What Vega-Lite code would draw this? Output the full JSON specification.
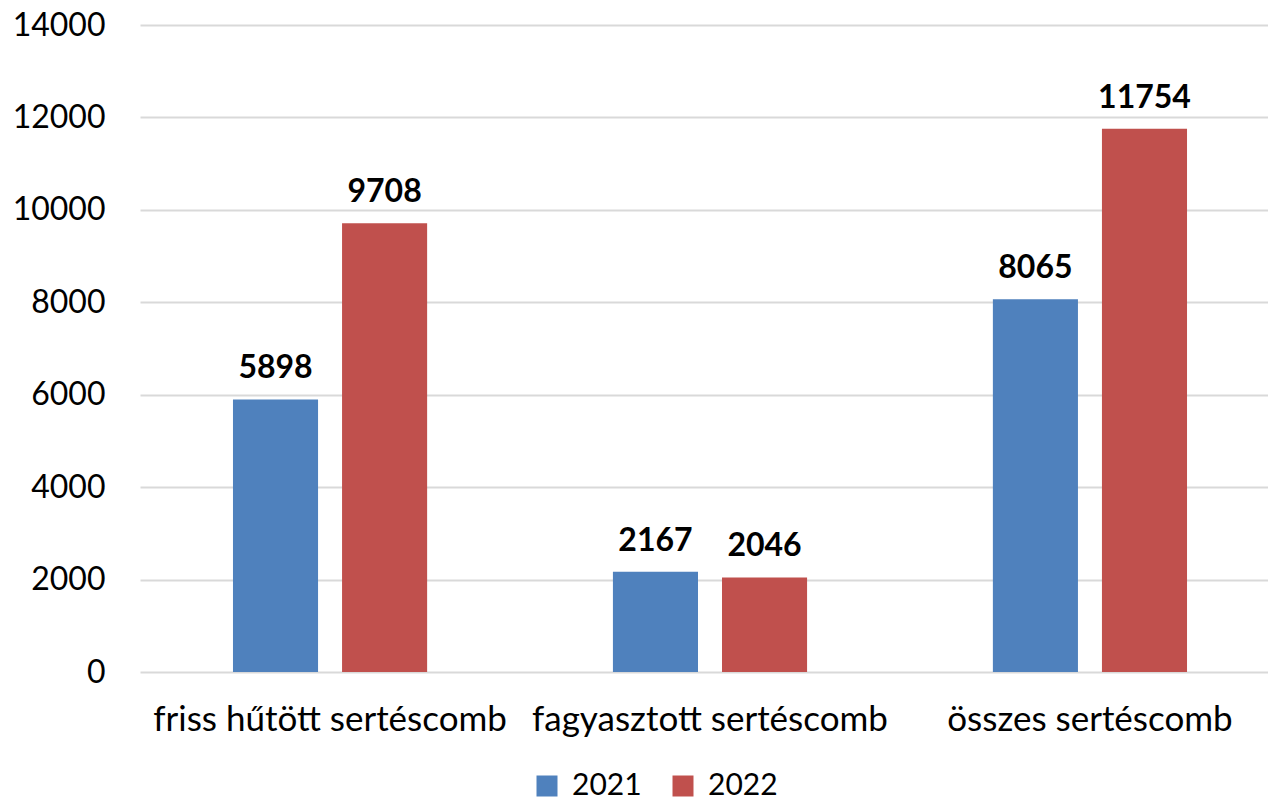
{
  "$schema": "https://vega.github.io/schema/vega-lite/v6.json",
  "width": 1128,
  "height": 647,
  "autosize": {"type": "none"},
  "padding": {"left": 140, "top": 25, "right": 0, "bottom": 130},
  "background": "white",
  "config": {
    "view": {"stroke": null},
    "font": "Lato",
    "axis": {"labelFont": "Lato", "labelColor": "#000000"},
    "legend": {"labelFont": "Lato"}
  },
  "data": {
    "values": [
      {"kategoria": "friss hűtött sertéscomb", "ev": "2021", "ertek": 5898},
      {"kategoria": "friss hűtött sertéscomb", "ev": "2022", "ertek": 9708},
      {"kategoria": "fagyasztott sertéscomb", "ev": "2021", "ertek": 2167},
      {"kategoria": "fagyasztott sertéscomb", "ev": "2022", "ertek": 2046},
      {"kategoria": "összes sertéscomb", "ev": "2021", "ertek": 8065},
      {"kategoria": "összes sertéscomb", "ev": "2022", "ertek": 11754}
    ]
  },
  "encoding": {
    "x": {
      "field": "kategoria",
      "type": "nominal",
      "sort": null,
      "scale": {"range": [0, 1140], "paddingInner": 0.489, "paddingOuter": 0.2447},
      "axis": {
        "title": null,
        "labelAngle": 0,
        "labelFontSize": 35,
        "labelPadding": 30,
        "ticks": false,
        "domain": false,
        "grid": false,
        "labelLimit": 500
      }
    },
    "xOffset": {
      "field": "ev",
      "type": "nominal",
      "scale": {"paddingInner": 0.22, "paddingOuter": 0}
    },
    "y": {
      "field": "ertek",
      "type": "quantitative",
      "scale": {"domain": [0, 14000], "nice": false},
      "axis": {
        "title": null,
        "values": [0, 2000, 4000, 6000, 8000, 10000, 12000, 14000],
        "format": "d",
        "labelFontSize": 32,
        "labelPadding": 35,
        "ticks": false,
        "domain": false,
        "grid": true,
        "gridColor": "#d9d9d9",
        "gridWidth": 2
      }
    }
  },
  "layer": [
    {
      "mark": {"type": "bar"},
      "encoding": {
        "color": {
          "field": "ev",
          "type": "nominal",
          "scale": {"domain": ["2021", "2022"], "range": ["#4f81bd", "#c0504d"]},
          "legend": {
            "title": null,
            "orient": "none",
            "direction": "horizontal",
            "legendX": 392,
            "legendY": 746,
            "symbolType": "square",
            "symbolSize": 441,
            "symbolStrokeWidth": 0,
            "labelFontSize": 30,
            "labelOffset": 10,
            "columnPadding": 26
          }
        }
      }
    },
    {
      "mark": {"type": "text", "baseline": "alphabetic", "dy": -21, "fontSize": 32, "fontWeight": "bold", "color": "#000000"},
      "encoding": {
        "detail": {"field": "ev", "type": "nominal"},
        "text": {"field": "ertek", "type": "quantitative", "format": "d"}
      }
    }
  ]
}
